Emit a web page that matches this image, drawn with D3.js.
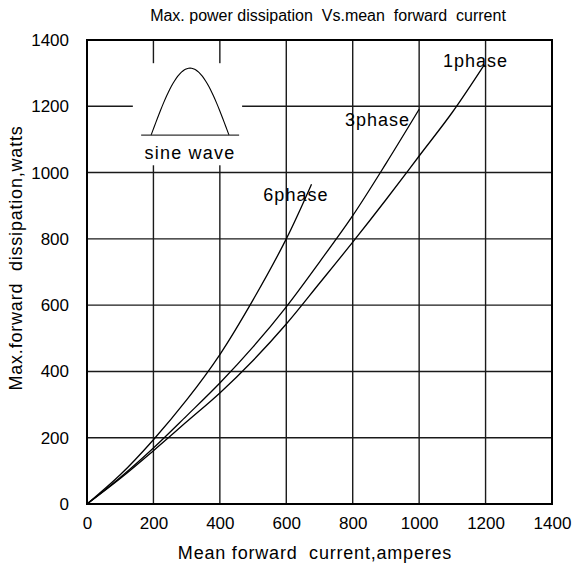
<!DOCTYPE html>
<html>
<head>
<meta charset="utf-8">
<script src="https://cdn.jsdelivr.net/npm/d3@7"></script>
<style>
  html, body { margin: 0; padding: 0; background: #fff; }
  svg text { font-family: "Liberation Sans", Arial, sans-serif; fill: #000; }
</style>
</head>
<body>
<svg id="chart" width="576" height="567"></svg>
<script>
// ---- data ----
const xTicks = [0, 200, 400, 600, 800, 1000, 1200, 1400];
const yTicks = [0, 200, 400, 600, 800, 1000, 1200, 1400];

const current1 = [0, 100, 200, 300, 400, 500, 600, 700, 800, 900, 1000, 1100, 1196];
const power1   = [0, 77, 161, 248, 335, 433, 543, 666, 790, 918, 1050, 1182, 1325];

const current3 = [0, 100, 200, 300, 400, 500, 600, 700, 800, 900, 1000];
const power3   = [0, 80, 169, 266, 365, 474, 595, 730, 870, 1027, 1191];

const current6 = [0, 100, 200, 300, 400, 500, 600, 676];
const power6   = [0, 88, 194, 314, 451, 616, 800, 965];

const seriesLabels = ["1phase", "3phase", "6phase"];

const titleText = "Max. power dissipation  Vs.mean  forward  current";
const xLabel = "Mean forward  current,amperes";
const yLabel = "Max.forward  dissipation,watts";
const insetLabel = "sine wave";

// ---- layout ----
const svg = d3.select("#chart");
const mLeft = 87, mRight = 552, mTop = 40, mBottom = 504;

const x = d3.scaleLinear().domain([0, 1400]).range([mLeft, mRight]);
const y = d3.scaleLinear().domain([0, 1400]).range([mBottom, mTop]);

// grid
const g = svg.append("g");
g.selectAll("line.vg").data(xTicks.slice(1, -1)).enter().append("line")
  .attr("x1", d => x(d)).attr("x2", d => x(d))
  .attr("y1", y(0)).attr("y2", y(1400))
  .attr("stroke", "#1a1a1a").attr("stroke-width", 1.4);
g.selectAll("line.hg").data(yTicks.slice(1, -1)).enter().append("line")
  .attr("y1", d => y(d)).attr("y2", d => y(d))
  .attr("x1", x(0)).attr("x2", x(1400))
  .attr("stroke", "#1a1a1a").attr("stroke-width", 1.4);

// inset white box covering grid
g.append("rect")
  .attr("x", x(138)).attr("y", y(1330))
  .attr("width", x(467) - x(138)).attr("height", y(1022) - y(1330))
  .attr("fill", "#fff");

// frame
g.append("rect")
  .attr("x", x(0)).attr("y", y(1400))
  .attr("width", x(1400) - x(0)).attr("height", y(0) - y(1400))
  .attr("fill", "none").attr("stroke", "#000").attr("stroke-width", 2);

// axes tick labels
const xAxis = d3.axisBottom(x).tickValues(xTicks).tickSize(0).tickPadding(13).tickFormat(d3.format("d"));
const yAxis = d3.axisLeft(y).tickValues(yTicks).tickSize(0).tickPadding(18).tickFormat(d3.format("d"));
const xa = svg.append("g").attr("transform", `translate(0,${mBottom})`).call(xAxis);
const ya = svg.append("g").attr("transform", `translate(${mLeft},0)`).call(yAxis);
[xa, ya].forEach(a => {
  a.select(".domain").remove();
  a.selectAll("text").attr("font-size", 17).attr("font-family", '"Liberation Sans", Arial, sans-serif').attr("fill", "#000");
});

// curves
const line = d3.line().x(d => x(d[0])).y(d => y(d[1])).curve(d3.curveCatmullRom.alpha(0.5));
const series = [
  d3.zip(current1, power1),
  d3.zip(current3, power3),
  d3.zip(current6, power6)
];
svg.selectAll("path.curve").data(series).enter().append("path")
  .attr("class", "curve")
  .attr("d", line)
  .attr("fill", "none").attr("stroke", "#000").attr("stroke-width", 1.3);

// series labels near curve ends
const labelPos = [[1072, 1318], [777, 1140], [531, 915]];
svg.selectAll("text.slab").data(seriesLabels).enter().append("text")
  .attr("class", "slab")
  .attr("x", (d, i) => x(labelPos[i][0]))
  .attr("y", (d, i) => y(labelPos[i][1]))
  .attr("font-size", 18)
  .attr("letter-spacing", 1)
  .text(d => d);

// sine wave inset
const sineTs = d3.range(0, 1.0001, 0.02);
const sx0 = 193, sx1 = 427.5, sBase = 1113, sPeak = 1315;
const sine = d3.line()
  .x(t => x(sx0 + (sx1 - sx0) * t))
  .y(t => y(sBase + (sPeak - sBase) * Math.sin(Math.PI * t)));
svg.append("path").attr("d", sine(sineTs)).attr("fill", "none").attr("stroke", "#000").attr("stroke-width", 1.1);
svg.append("line")
  .attr("x1", x(163)).attr("x2", x(458)).attr("y1", y(sBase)).attr("y2", y(sBase))
  .attr("stroke", "#333").attr("stroke-width", 1.2);
svg.append("text").attr("x", x(310)).attr("y", y(1041))
  .attr("text-anchor", "middle").attr("font-size", 18).attr("letter-spacing", 1.2).text(insetLabel);

// titles
svg.append("text").attr("x", 328).attr("y", 21).attr("text-anchor", "middle")
  .attr("font-size", 16).style("white-space", "pre").text(titleText);
svg.append("text").attr("x", 315).attr("y", 559).attr("text-anchor", "middle")
  .attr("font-size", 18).attr("letter-spacing", 0.8).style("white-space", "pre").text(xLabel);
svg.append("text").attr("transform", `translate(22,258) rotate(-90)`)
  .attr("text-anchor", "middle").attr("font-size", 18).attr("letter-spacing", 0.8).style("white-space", "pre").text(yLabel);
</script>
</body>
</html>
